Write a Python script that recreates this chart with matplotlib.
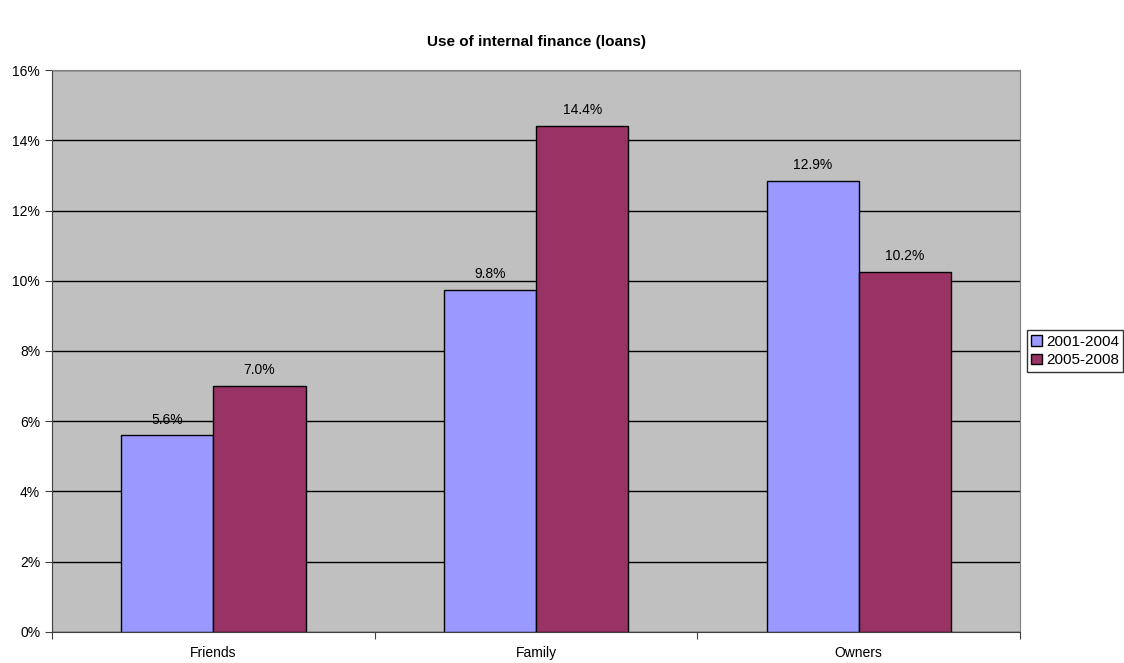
import numpy as np
import matplotlib.pyplot as plt
from matplotlib.ticker import FuncFormatter

plt.rcParams['font.family'] = ['Liberation Sans', 'DejaVu Sans']

categories = ['Friends', 'Family', 'Owners']
series_names = ['2001-2004', '2005-2008']
vals_2001_2004 = [5.6, 9.75, 12.85]
vals_2005_2008 = [7.0, 14.4, 10.25]
labels_2001_2004 = ['5.6%', '9.8%', '12.9%']
labels_2005_2008 = ['7.0%', '14.4%', '10.2%']
colors = ['#9999FF', '#993366']

fig = plt.figure(figsize=(11.24, 6.63), dpi=100)
ax = fig.add_axes([0.0463, 0.0468, 0.8612, 0.8476])
ax.set_facecolor('#C0C0C0')

x = np.arange(len(categories))
w = 1 / 3.5
series = [(vals_2001_2004, labels_2001_2004), (vals_2005_2008, labels_2005_2008)]
for i, (vals, labs) in enumerate(series):
    pos = x + (i - 0.5) * w
    ax.bar(pos, vals, width=w, color=colors[i], edgecolor='black', linewidth=1,
           label=series_names[i], zorder=3)
    for p, v, l in zip(pos, vals, labs):
        ax.text(p, v + 0.25, l, ha='center', va='bottom', fontsize=10, zorder=4)

ax.set_xlim(-0.5, 2.5)
ax.set_ylim(0, 16)
ax.set_yticks(np.arange(0, 17, 2))
ax.yaxis.set_major_formatter(FuncFormatter(lambda v, _: f'{int(v)}%'))
ax.grid(axis='y', color='black', linewidth=1, zorder=1)
# category boundaries get the tick marks, names sit in between
ax.set_xticks([-0.5, 0.5, 1.5, 2.5])
ax.set_xticklabels([])
ax.set_xticks(x, minor=True)
ax.set_xticklabels(categories, minor=True)
ax.tick_params(axis='x', which='minor', length=0, pad=10, labelsize=10)
ax.tick_params(axis='x', which='major', length=5, direction='out', color='#404040')
ax.tick_params(axis='y', length=5, direction='out', labelsize=10, color='#404040')
for s in ['top', 'right']:
    ax.spines[s].set_color('#808080')
for s in ['left', 'bottom']:
    ax.spines[s].set_color('#404040')

ax.set_title('Use of internal finance (loans)', fontsize=11, fontweight='bold', pad=17)

ax.legend(loc='center left', bbox_to_anchor=(1.007, 0.5), frameon=True, fancybox=False,
          edgecolor='black', fontsize=11, handlelength=0.7, handleheight=0.7,
          handletextpad=0.25, borderpad=0.3, labelspacing=0.3, borderaxespad=0)

fig.savefig('out.png', dpi=100)
